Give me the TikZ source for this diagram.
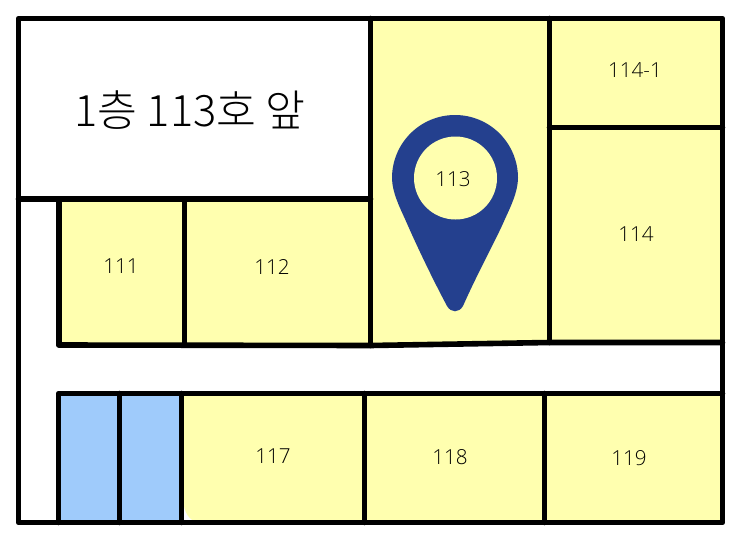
\documentclass[tikz,border=0pt]{standalone}
\usepackage{fontspec}
\setmainfont{Open Sans Light}
\newfontfamily\krfont{Noto Sans CJK KR Light}
\definecolor{roomyellow}{HTML}{FFFFAF}
\definecolor{roomblue}{HTML}{9FCBFB}
\definecolor{pinblue}{HTML}{24408E}
\tikzset{
  wall/.style={line width=4.2pt,line cap=round,line join=round,black},
  roomlabel/.style={font=\fontsize{15.5}{18}\selectfont,text=black,inner sep=0pt},
}
\begin{document}
\begin{tikzpicture}[x=0.75pt,y=-0.75pt]
\useasboundingbox (0,0) rectangle (746,539);
\fill[white] (0,0) rectangle (746,539);
% room fills
\fill[roomyellow] (59,199) rectangle (370,345);
\fill[roomyellow] (370,18) -- (722,18) -- (722,342) -- (549,342) -- (370,345) -- cycle;
\fill[roomyellow] (181,393) -- (722,393) -- (722,522) -- (196,522) .. controls (186,518) and (183,508) .. (183,495) -- cycle;
\fill[roomblue] (59,393) rectangle (181,522);
% pin
\fill[pinblue]
  (392,178) arc[start angle=180,end angle=360,radius=63]
  .. controls (518,192) and (510,208) .. (505,219)
  .. controls (495,242) and (479,270) .. (463,306)
  .. controls (459,313) and (451,313) .. (447,306)
  .. controls (431,276) and (415,242) .. (405,219)
  .. controls (400,208) and (392,192) .. (392,178) -- cycle;
\fill[roomyellow] (455.5,178) circle[radius=41.5];
% walls
\draw[wall] (18.5,18.5) rectangle (722.5,522.5);
\draw[wall] (18.5,199) -- (370.5,199);
\draw[wall] (370.5,18.5) -- (370.5,345.5);
\draw[wall] (549.5,18.5) -- (549.5,342.5);
\draw[wall] (549.5,127.5) -- (722.5,127.5);
\draw[wall] (59,345) -- (370.5,345.5) -- (549.5,342.5) -- (722.5,342.5);
\draw[wall] (59,199) -- (59,345);
\draw[wall] (184.5,199) -- (184.5,345);
\draw[wall] (58.5,522.5) -- (58.5,393.5) -- (722.5,393.5);
\draw[wall] (119.5,393.5) -- (119.5,522.5);
\draw[wall] (181.5,393.5) -- (181.5,522.5);
\draw[wall] (364.5,393.5) -- (364.5,522.5);
\draw[wall] (544.5,393.5) -- (544.5,522.5);
% labels
\node[inner sep=0pt,text=black,font=\fontsize{32.5}{36}\selectfont\krfont] (title) at (190,110) {1층 113호 앞};
\node[roomlabel] (r1141) at (635,70) {114-1};
\node[roomlabel] (r113) at (453,179) {113};
\node[roomlabel] (r114) at (636,234) {114};
\node[roomlabel] (r111) at (121,266) {111};
\node[roomlabel] (r112) at (272,267) {112};
\node[roomlabel] (r117) at (273,456) {117};
\node[roomlabel] (r118) at (450,457) {118};
\node[roomlabel] (r119) at (629,458) {119};
\end{tikzpicture}
\end{document}
